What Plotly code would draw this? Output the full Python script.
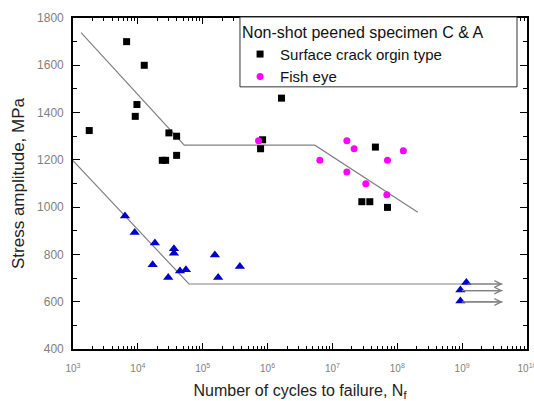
import plotly.graph_objects as go
import numpy as np

# ---- data ----
surf_N = [1780, 6710, 12550, 9680, 9120, 30100, 39600, 23800, 26800, 39600,
          838000, 780000, 1.64e6, 4.6e7, 2.84e7, 3.77e7, 7.06e7]
surf_S = [1324, 1700, 1600, 1434, 1384, 1314, 1300, 1198, 1198, 1219,
          1285, 1247, 1461, 1254, 1023, 1023, 999]

fish_N = [7.26e5, 6.4e6, 1.67e7, 2.16e7, 1.67e7, 3.27e7, 7.06e7, 1.24e8, 6.9e7]
fish_S = [1281, 1198, 1281, 1247, 1149, 1099, 1198, 1239, 1052]

shot_N = [6330, 8930, 18300, 16900, 36000, 36000, 29400, 44600, 55100,
          154000, 173000, 374000, 1.16e9, 9.4e8, 9.4e8]
shot_S = [963, 893, 848, 756, 824, 805, 702, 730, 735,
          798, 702, 749, 681, 650, 603]

fit_upper_N = [1330, 51900, 5.36e6, 2.07e8]
fit_upper_S = [1738, 1262, 1262, 978]
fit_lower_N = [1000, 61300, 1.16e9]
fit_lower_S = [1197, 675, 675]

runout_start_N = [1.16e9, 9.4e8, 9.4e8]
runout_S = [675, 647, 599]
runout_end_N = 4.2e9

x_tickvals = [1e3, 1e4, 1e5, 1e6, 1e7, 1e8, 1e9, 1e10]
x_ticktext = ["10<sup>3</sup>", "10<sup>4</sup>", "10<sup>5</sup>", "10<sup>6</sup>",
              "10<sup>7</sup>", "10<sup>8</sup>", "10<sup>9</sup>", "10<sup>10</sup>"]
y_tickvals = [400, 600, 800, 1000, 1200, 1400, 1600, 1800]
y_ticktext = [str(v) for v in y_tickvals]

FONT = "Arial, Liberation Sans, sans-serif"
LINE_GRAY = "#808080"

fig = go.Figure()

fig.add_trace(go.Scatter(x=fit_upper_N, y=fit_upper_S, mode="lines",
                         line=dict(color=LINE_GRAY, width=1.2), showlegend=False,
                         hoverinfo="skip"))
fig.add_trace(go.Scatter(x=fit_lower_N, y=fit_lower_S, mode="lines",
                         line=dict(color=LINE_GRAY, width=1.2), showlegend=False,
                         hoverinfo="skip"))
for n0, s in zip(runout_start_N, runout_S):
    fig.add_trace(go.Scatter(x=[n0, runout_end_N], y=[s, s], mode="lines",
                             line=dict(color=LINE_GRAY, width=1.2), showlegend=False,
                             hoverinfo="skip"))
    fig.add_annotation(x=np.log10(runout_end_N), y=s, ax=np.log10(n0), ay=s,
                       xref="x", yref="y", axref="x", ayref="y", text="",
                       showarrow=True, arrowhead=5, arrowsize=1.1, arrowwidth=1.2,
                       arrowcolor=LINE_GRAY, standoff=0, startstandoff=0)

fig.add_trace(go.Scatter(x=surf_N, y=surf_S, mode="markers",
                         marker=dict(symbol="square", size=7, color="black"),
                         name="Surface crack orgin type"))
fig.add_trace(go.Scatter(x=fish_N, y=fish_S, mode="markers",
                         marker=dict(symbol="circle", size=7, color="#ff00ff"),
                         name="Fish eye"))
fig.add_trace(go.Scatter(x=shot_N, y=shot_S, mode="markers",
                         marker=dict(symbol="triangle-up", size=9, color="#0000cc"),
                         showlegend=False))

# legend frame (drawn as a paper-referenced box so its width matches the original)
fig.add_shape(type="rect", xref="paper", yref="paper",
              x0=0.3678, x1=0.978, y0=0.792, y1=1.003,
              line=dict(color="#333333", width=1), fillcolor="white", layer="above")

fig.update_layout(
    width=534, height=401,
    margin=dict(l=73, r=7, t=18, b=52),
    paper_bgcolor="white", plot_bgcolor="white",
    font=dict(family=FONT, color="#222222"),
    legend=dict(
        title=dict(text="Non-shot peened specimen C & A", font=dict(size=16, color="#111111")),
        font=dict(size=15, color="#111111"),
        x=0.368, y=1.003, xanchor="left", yanchor="top",
        bgcolor="rgba(0,0,0,0)", borderwidth=0,
        tracegroupgap=0, itemsizing="trace",
    ),
)

fig.update_xaxes(
    type="log", range=[3, 10], automargin=False,
    tickvals=x_tickvals, ticktext=x_ticktext,
    ticks="inside", ticklen=6, tickwidth=1, tickcolor="black",
    minor=dict(ticks="inside", ticklen=3, tickcolor="black", dtick="D1", showgrid=False),
    tickfont=dict(size=10, color="#808080"),
    ticklabelstandoff=9, ticklabeloverflow="allow",
    showline=True, linecolor="black", linewidth=1.6, mirror="allticks",
    showgrid=False, zeroline=False,
    title=dict(text="Number of cycles to failure, N<sub>f</sub>",
               font=dict(size=16, color="#222222"), standoff=15),
)
fig.update_yaxes(
    range=[400, 1800], automargin=False,
    tickvals=y_tickvals, ticktext=y_ticktext,
    ticks="inside", ticklen=7, tickwidth=1, tickcolor="black",
    minor=dict(ticks="inside", ticklen=4, tickcolor="black", dtick=100, showgrid=False),
    tickfont=dict(size=12, color="#808080"),
    ticklabelstandoff=5,
    showline=True, linecolor="black", linewidth=1.6, mirror="allticks",
    showgrid=False, zeroline=False,
    title=dict(text="Stress amplitude, MPa",
               font=dict(size=17, color="#222222"), standoff=8),
)

fig.write_html("out.html")
